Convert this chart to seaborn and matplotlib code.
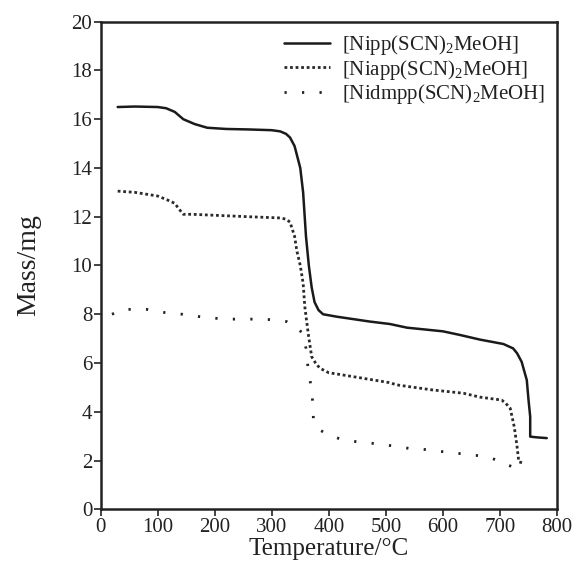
import matplotlib
matplotlib.use("Agg")
import matplotlib.pyplot as plt
import seaborn as sns
import pandas as pd

# Series data (Temperature in °C, Mass in mg)
t_nipp = [30, 60, 100, 115, 130, 145, 165, 187, 220, 260, 300, 315, 325, 332, 340,
          350, 355, 360, 365, 370, 375, 382, 390, 414, 472, 507, 537, 600, 630, 665,
          706, 723, 730, 738, 747, 750, 753, 753, 765, 782]
m_nipp = [16.5, 16.52, 16.5, 16.45, 16.3, 16.0, 15.8, 15.65, 15.6, 15.58, 15.55, 15.5,
          15.4, 15.25, 14.9, 14.0, 13.0, 11.2, 10.0, 9.1, 8.5, 8.17, 8.0, 7.9, 7.7,
          7.6, 7.45, 7.3, 7.15, 6.96, 6.78, 6.6, 6.4, 6.05, 5.3, 4.5, 3.8, 2.98,
          2.95, 2.92]

t_niapp = [30, 60, 100, 116, 130, 138, 145, 160, 210, 260, 315, 325, 332, 340, 344,
           350, 355, 358, 364, 370, 378, 385, 400, 414, 461, 505, 520, 580, 636, 665,
           703, 710, 718, 725, 730, 733, 741]
m_niapp = [13.05, 13.0, 12.85, 12.7, 12.55, 12.3, 12.1, 12.1, 12.05, 12.0, 11.95, 11.9,
           11.78, 11.2, 10.6, 10.0, 9.27, 8.3, 7.2, 6.26, 5.95, 5.78, 5.6, 5.55, 5.37,
           5.2, 5.1, 4.9, 4.76, 4.6, 4.48, 4.35, 4.14, 3.39, 2.57, 1.95, 1.89]

t_nidmpp = [20, 40, 81, 100, 143, 162, 204, 223, 265, 288, 326, 344, 355, 360, 362,
            365, 368, 371, 373, 382, 400, 417, 438, 478, 500, 540, 562, 601, 624, 662,
            686, 721, 735]
m_nidmpp = [8.0, 8.2, 8.2, 8.1, 8.0, 7.93, 7.83, 7.8, 7.8, 7.8, 7.7, 7.45, 7.2, 6.6,
            6.1, 5.6, 5.17, 4.66, 3.73, 3.28, 3.05, 2.91, 2.8, 2.7, 2.64, 2.5, 2.47,
            2.36, 2.3, 2.2, 2.09, 1.75, 1.37]

labels = [r"[Nipp(SCN)$_2$MeOH]", r"[Niapp(SCN)$_2$MeOH]", r"[Nidmpp(SCN)$_2$MeOH]"]
x_ticks = [0, 100, 200, 300, 400, 500, 600, 700, 800]
y_ticks = [0, 2, 4, 6, 8, 10, 12, 14, 16, 18, 20]

sns.set_theme(style="ticks")
plt.rcParams["font.family"] = ["Liberation Serif", "DejaVu Serif"]
plt.rcParams["mathtext.fontset"] = "custom"
plt.rcParams["mathtext.rm"] = "Liberation Serif"
plt.rcParams["mathtext.it"] = "Liberation Serif:italic"

fig = plt.figure(figsize=(5.78, 5.65), dpi=100)
ax = fig.add_axes([0.174, 0.0986, 0.7897, 0.863])

series = [(t_nipp, m_nipp), (t_niapp, m_niapp), (t_nidmpp, m_nidmpp)]
styles = [
    dict(linestyle="-", linewidth=1.8, color="#1a1a1a"),
    dict(linestyle=(0, (1.0, 1.0)), linewidth=2.0, color="#2a2a2a"),
    dict(linestyle=(0, (0.8, 5.5)), linewidth=2.0, color="#222222"),
]
for (t, m), lab, st in zip(series, labels, styles):
    df = pd.DataFrame({"Temperature": t, "Mass": m})
    sns.lineplot(data=df, x="Temperature", y="Mass", ax=ax, label=lab,
                 sort=False, estimator=None, **st)

ax.set_xlim(0, 800)
ax.set_ylim(0, 20)
ax.set_xticks(x_ticks)
ax.set_yticks(y_ticks)
ax.tick_params(axis="both", direction="out", length=5, width=1.2, labelsize=15,
               colors="#222222", pad=1)
for s in ax.spines.values():
    s.set_visible(True)
    s.set_linewidth(1.8)
    s.set_color("#222222")
ax.set_xlabel("Temperature/°C", fontsize=18, labelpad=1, color="#222222")
ax.set_ylabel("Mass/mg", fontsize=20, labelpad=22, color="#222222")

leg = ax.legend(loc="upper right", frameon=False, fontsize=15, handlelength=2.2,
                handletextpad=0.6, labelspacing=0.02, borderaxespad=0.05,
                borderpad=0.5)
for txt in leg.get_texts():
    txt.set_color("#222222")

fig.savefig("out.png", dpi=100)
